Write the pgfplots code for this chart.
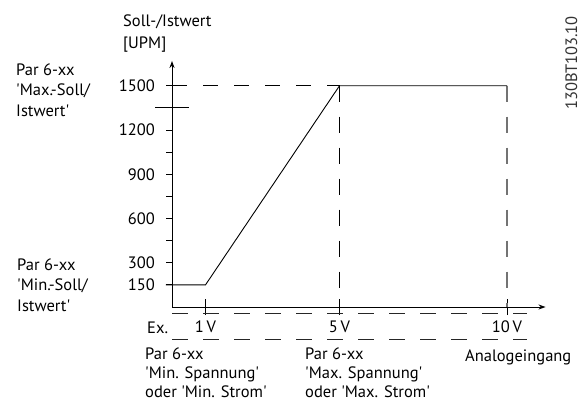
\documentclass[border=0pt]{standalone}
\usepackage{pgfplots}
\pgfplotsset{compat=1.18}
\usetikzlibrary{arrows.meta}
\usepackage{fontspec}
\setmainfont{PT Sans}
\newcommand{\q}{\textquotesingle}
\begin{document}
\begin{tikzpicture}[x=1bp,y=1bp,every node/.style={inner sep=0pt}]
\useasboundingbox (0,0) rectangle (588,401);
\begin{axis}[
  at={(172bp,94bp)}, anchor=south west,
  x=33.5bp, y=0.1475bp,
  xmin=0, xmax=11.15, ymin=0, ymax=1668,
  axis lines=left,
  axis line style={line width=0.9bp, -{Stealth[length=7bp,width=5bp]}},
  clip=false,
  font=\fontsize{16.5bp}{19bp}\selectfont,
  /pgf/number format/assume math mode=true,
  tick align=outside,
  major tick length=6bp,
  tick style={line width=0.9bp, black},
  xtick=\empty,
  extra x ticks={1,5,10},
  extra x tick labels={1\,V,5\,V,10\,V},
  extra x tick style={tick align=center, /pgfplots/major tick length=16bp},
  xticklabel style={anchor=north, inner sep=0pt, yshift=-6bp},
  ytick={150,300,450,600,750,900,1050,1200,1500},
  yticklabels={150,300,,600,,900,,1200,1500},
  yticklabel style={anchor=east, inner sep=0pt, xshift=-11bp},
  extra y ticks={1350},
  extra y tick labels={},
  extra y tick style={tick align=center, /pgfplots/major tick length=34bp},
]
% dashed guide lines
\addplot[black, line width=0.9bp, dash pattern=on 15bp off 16bp] coordinates {(0,1500) (5,1500)};
\addplot[black, line width=0.9bp, dash pattern=on 16bp off 15bp] coordinates {(5,1500) (5,0)};
\addplot[black!55, line width=1.3bp, dash pattern=on 16bp off 15bp] coordinates {(10,1500) (10,0)};
\addplot[black!85, line width=0.9bp, dash pattern=on 15.5bp off 15.5bp] coordinates {(0,-45) (10.6,-45)};
\addplot[black!85, line width=0.9bp, dash pattern=on 15.5bp off 15.5bp] coordinates {(0,-217) (10.6,-217)};
% characteristic
\addplot[black, line width=0.9bp] coordinates {(-0.18,150) (1,150) (5,1500) (10,1500)};
\end{axis}
\begin{scope}[font=\fontsize{16.5bp}{19bp}\selectfont]
\node[anchor=base west] at (123,375) {Soll-/Istwert};
\node[anchor=base west] at (123,353) {[UPM]};
\node[anchor=base west] at (16,326) {Par 6-xx};
\node[anchor=base west] at (16,305.5) {\q Max.-Soll/};
\node[anchor=base west] at (16,285) {Istwert\q};
\node[anchor=base west] at (17,131) {Par 6-xx};
\node[anchor=base west] at (17,110.5) {\q Min.-Soll/};
\node[anchor=base west] at (17,90) {Istwert\q};
\node[anchor=base west] at (147,68) {Ex.};
\node[anchor=base west] at (145,42) {Par 6-xx};
\node[anchor=base west] at (145,22.5) {\q Min. Spannung\q};
\node[anchor=base west] at (145,3.5) {oder \q Min. Strom\q};
\node[anchor=base west] at (305,42) {Par 6-xx};
\node[anchor=base west] at (305,22.5) {\q Max. Spannung\q};
\node[anchor=base west] at (305,3.5) {oder \q Max. Strom\q};
\node[anchor=base west] at (465,40) {Analogeingang};
\node[anchor=base west, rotate=90, text=black!80] at (577,291) {130BT103.10};
\end{scope}
\end{tikzpicture}
\end{document}
